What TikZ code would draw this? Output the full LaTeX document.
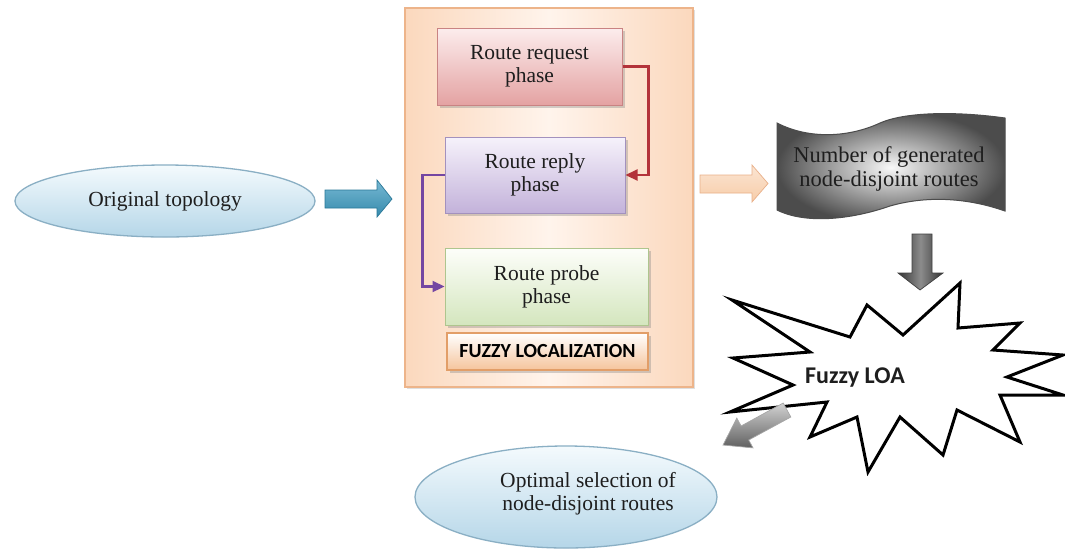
\documentclass[tikz,border=0pt]{standalone}
\usepackage{fontspec}
\setmainfont{Liberation Serif}
\newfontfamily\carlfont{Carlito}
\usetikzlibrary{shapes.geometric,arrows.meta,shadows}
\definecolor{txtc}{HTML}{1E1E1E}
\definecolor{ovalline}{HTML}{8AAFC4}
\definecolor{ovaltop}{HTML}{F4FAFD}
\definecolor{ovalbot}{HTML}{B5D6E8}
\definecolor{bluearrow}{HTML}{3C9AC0}
\definecolor{bluearrowline}{HTML}{2A7898}
\definecolor{panelline}{HTML}{EDB48A}
\definecolor{panelside}{HTML}{FBD8BD}
\definecolor{panelmid}{HTML}{FFF4EC}
\definecolor{reqtop}{HTML}{FCEDED}
\definecolor{reqbot}{HTML}{E4A2A2}
\definecolor{reqline}{HTML}{C98383}
\definecolor{reptop}{HTML}{F6F2FB}
\definecolor{repbot}{HTML}{C3B2DA}
\definecolor{repline}{HTML}{A391BE}
\definecolor{protop}{HTML}{FDFEFA}
\definecolor{probot}{HTML}{D4E6BE}
\definecolor{proline}{HTML}{AEC58E}
\definecolor{locbot}{HTML}{F5C49C}
\definecolor{locline}{HTML}{E29E68}
\definecolor{redarrow}{HTML}{B3333A}
\definecolor{purarrow}{HTML}{7446A2}
\definecolor{peach}{HTML}{F7CCA8}
\definecolor{peachline}{HTML}{E9B089}
\begin{document}
\begin{tikzpicture}[x=1pt,y=-1pt,
  txt/.style={text=txtc, font=\fontsize{21.5}{23}\selectfont, align=center},
  phasebox/.style={draw, line width=1pt, drop shadow={opacity=0.35,shadow xshift=2.5pt,shadow yshift=-2.5pt}, txt},
  oval/.style={ellipse, draw=ovalline, line width=1.3pt, top color=ovaltop, bottom color=ovalbot},
  elbow/.style={line width=2.2pt, -{Triangle[length=12pt,width=11pt]}},
  blockarrow/.style={line width=0.7pt, line join=miter}
]
\useasboundingbox (0,0) rectangle (1065,558);
\fill[white] (0,0) rectangle (1065,558);

% left ellipse
\node[oval, minimum width=300pt, minimum height=72pt, txt] (orig) at (165,201) {Original topology};

% blue block arrow
\draw[blockarrow, draw=bluearrowline, top color=bluearrow!70, bottom color=bluearrow!90!black]
  (325,190) -- (377,190) -- (377,180) -- (392,199) -- (377,217) -- (377,208) -- (325,208) -- cycle;

% panel
\node[draw=panelline, line width=1.6pt, minimum width=288pt, minimum height=379pt,
  left color=panelside, right color=panelside, middle color=panelmid,
  drop shadow={opacity=0.25,shadow xshift=2pt,shadow yshift=-2pt}] (panel) at (549,197.5) {};

\node[phasebox, draw=reqline, top color=reqtop, bottom color=reqbot, minimum width=185pt, minimum height=77pt] (req) at (529.5,66.5) {Route request\\phase};
\node[phasebox, draw=repline, top color=reptop, bottom color=repbot, minimum width=180pt, minimum height=76pt] (rep) at (535,175) {Route reply\\phase};
\node[phasebox, draw=proline, top color=protop, bottom color=probot, minimum width=203pt, minimum height=77pt] (pro) at (546.5,286.5) {Route probe\\phase};
\node[phasebox, draw=locline, line width=1.4pt, top color=white, bottom color=locbot, minimum width=201pt, minimum height=37pt,
  font=\carlfont\bfseries\fontsize{20}{22}\selectfont, text=black] (loc) at (547.5,351.5) {FUZZY LOCALIZATION};

\draw[elbow, draw=redarrow] (req.east) -- ++(26,0) |- (rep.east);
\draw[elbow, draw=purarrow] (rep.west) -- ++(-22,0) |- (pro.west);

% peach block arrow
\draw[blockarrow, draw=peachline, top color=peach!50, bottom color=peach]
  (700,175) -- (752,175) -- (752,165) -- (768,183.5) -- (752,202) -- (752,193) -- (700,193) -- cycle;

% wave shape
\shade[inner color=gray!5, outer color=gray!60!black]
  (777,123) .. controls (810,140) and (850,137) .. (880,123) .. controls (905,112) and (955,111) .. (1005,118)
  -- (1005,211) .. controls (965,197) and (925,196) .. (890,206) .. controls (850,220) and (805,224) .. (777,210) -- cycle;
\draw[line width=1pt, draw=gray!60!black]
  (777,123) .. controls (810,140) and (850,137) .. (880,123) .. controls (905,112) and (955,111) .. (1005,118)
  -- (1005,211) .. controls (965,197) and (925,196) .. (890,206) .. controls (850,220) and (805,224) .. (777,210) -- cycle;
\node[txt, font=\fontsize{22.5}{24}\selectfont] (num) at (889,169) {Number of generated\\node-disjoint routes};

% dark down arrow
\draw[blockarrow, draw=gray!50!black, left color=black!80, right color=black!80, middle color=black!45]
  (912,234) -- (932,234) -- (932,273) -- (943,273) -- (920,290) -- (898,273) -- (912,273) -- cycle;

% starburst
\draw[line width=3pt, fill=white, line join=miter, miter limit=20]
  (732,300) -- (850,337) -- (867,305) -- (903,335) -- (960,283) -- (958,328) -- (1020,323) -- (993,350)
  -- (1063,355) -- (1007,377) -- (1063,395) -- (1000,395) -- (1020,442) -- (957,410) -- (943,455)
  -- (900,417) -- (868,472) -- (857,417) -- (810,437) -- (827,402) -- (730,412) -- (793,385)
  -- (733,358) -- (810,352) -- cycle;
\node[text=txtc, font=\carlfont\bfseries\fontsize{24}{26}\selectfont] (loa) at (855,378) {Fuzzy LOA};

% small gray arrow
\draw[blockarrow, draw=gray!70, top color=gray!35, bottom color=gray!75!black]
  (790.8,417.0) -- (748.7,440.0) -- (753.0,447.9) -- (723,445) -- (736.8,418.1) -- (741.1,426.0) -- (783.2,403.0) -- cycle;

% bottom ellipse
\node[oval, minimum width=302pt, minimum height=102pt] (opt) at (566,497) {};
\node[txt] (optt) at (588,494) {Optimal selection of\\node-disjoint routes};
\end{tikzpicture}
\end{document}
